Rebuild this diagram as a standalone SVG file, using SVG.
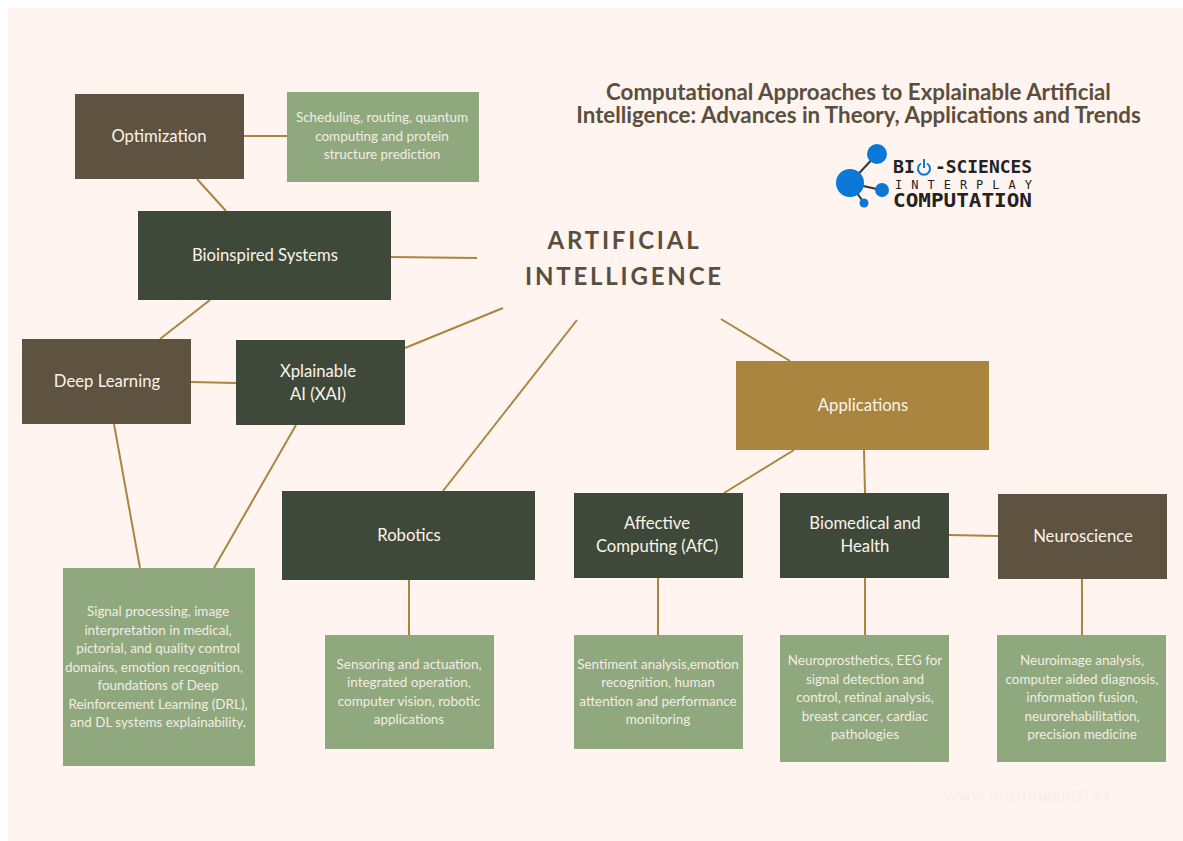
<svg xmlns="http://www.w3.org/2000/svg" width="1183" height="841" viewBox="0 0 1183 841">
<style>
text{font-family:"Lato","Noto Sans",sans-serif;text-anchor:middle}
.dk{fill:#3f493a}.br{fill:#5e5240}.gr{fill:#8fa87e}.go{fill:#aa853f}
.t{fill:#fbf3ea;font-size:16.7px}
.s{fill:#f3ede2;font-size:13.45px}
.c line{stroke:#aa853f;stroke-width:2;fill:none}
.h{fill:#5a4f3e;font-size:22.3px;font-weight:700}
.ai{fill:#5a4f3e;font-size:24px;font-weight:700;letter-spacing:2.8px}
.lg{fill:#222;font-family:"DejaVu Sans Mono",monospace;font-weight:700;text-anchor:start}
</style>
<rect width="1183" height="841" fill="#ffffff"/>
<rect x="8" y="8" width="1175" height="833" fill="#fff4ef"/>
<g id="connectors" class="c">
<line x1="244" y1="136" x2="287" y2="136"/>
<line x1="197" y1="179" x2="226" y2="211"/>
<line x1="391" y1="257" x2="477" y2="258"/>
<line x1="210" y1="300" x2="160" y2="339"/>
<line x1="191" y1="382" x2="236" y2="383"/>
<line x1="405" y1="348" x2="503" y2="308"/>
<line x1="114" y1="424" x2="140" y2="568"/>
<line x1="296" y1="425" x2="214" y2="568"/>
<line x1="577" y1="320" x2="443" y2="491"/>
<line x1="721" y1="319" x2="790" y2="361"/>
<line x1="409" y1="580" x2="409" y2="635"/>
<line x1="794" y1="450" x2="724" y2="493"/>
<line x1="864" y1="450" x2="865" y2="493"/>
<line x1="949" y1="535" x2="998" y2="536"/>
<line x1="658" y1="578" x2="658" y2="635"/>
<line x1="865" y1="578" x2="865" y2="635"/>
<line x1="1082" y1="579" x2="1082" y2="635"/>
</g>
<g id="title"><text class="h" x="858.500" y="100">Computational Approaches to Explainable Artificial</text><text class="h" x="858.500" y="123">Intelligence: Advances in Theory, Applications and Trends</text></g>
<g id="logo">
<g stroke="#333" stroke-width="2"><line x1="850" y1="183" x2="877" y2="154"/><line x1="850" y1="183" x2="881" y2="190"/><line x1="850" y1="183" x2="864" y2="203"/></g>
<g fill="#0b78d8"><circle cx="850" cy="183" r="14"/><circle cx="877" cy="154" r="10"/><circle cx="882" cy="190" r="7"/><circle cx="864" cy="203" r="4.500"/></g>
<path d="M 921 163.500 A 6 6 0 1 0 927 163.500" fill="none" stroke="#0b78d8" stroke-width="2"/><line x1="924" y1="159" x2="924" y2="168" stroke="#0b78d8" stroke-width="2"/>
<text class="lg" x="893" y="173" font-size="17" textLength="22" lengthAdjust="spacingAndGlyphs">BI</text>
<text class="lg" x="935" y="173" font-size="17" textLength="97" lengthAdjust="spacingAndGlyphs">-SCIENCES</text>
<text class="lg" x="895" y="189" font-size="12" style="font-weight:400" textLength="137">INTERPLAY</text>
<text class="lg" x="893" y="207" font-size="19" textLength="139" lengthAdjust="spacingAndGlyphs">COMPUTATION</text>
</g>
<g id="ai"><text class="ai" x="624.500" y="249">ARTIFICIAL</text><text class="ai" x="624.500" y="285">INTELLIGENCE</text></g>
<g id="optimization"><rect class="br" x="75" y="94" width="169" height="85"/><text class="t" x="159" y="142">Optimization</text></g>
<g id="optimization-note"><rect class="gr" x="287" y="92" width="192" height="90"/><text class="s"><tspan x="382" y="122">Scheduling, routing, quantum</tspan><tspan x="382" y="141">computing and protein</tspan><tspan x="382" y="159">structure prediction</tspan></text></g>
<g id="bioinspired"><rect class="dk" x="138" y="211" width="253" height="89"/><text class="t" x="265" y="261">Bioinspired Systems</text></g>
<g id="deep-learning"><rect class="br" x="22" y="339" width="169" height="85"/><text class="t" x="107" y="387">Deep Learning</text></g>
<g id="xai"><rect class="dk" x="236" y="340" width="169" height="85"/><text class="t"><tspan x="318" y="377">Xplainable</tspan><tspan x="318" y="400">AI (XAI)</tspan></text></g>
<g id="dl-note"><rect class="gr" x="63" y="568" width="192" height="198"/><text class="s"><tspan x="158" y="616">Signal processing, image</tspan><tspan x="158" y="635">interpretation in medical,</tspan><tspan x="158" y="653">pictorial, and quality control</tspan><tspan x="154" y="672">domains, emotion recognition,</tspan><tspan x="158" y="690">foundations of Deep</tspan><tspan x="158" y="709">Reinforcement Learning (DRL),</tspan><tspan x="158" y="727">and DL systems explainability<tspan fill="#ffffff">.</tspan></tspan></text></g>
<g id="robotics"><rect class="dk" x="282" y="491" width="253" height="89"/><text class="t" x="409" y="541">Robotics</text></g>
<g id="robotics-note"><rect class="gr" x="325" y="635" width="169" height="114"/><text class="s"><tspan x="409" y="669">Sensoring and actuation,</tspan><tspan x="409" y="687">integrated operation,</tspan><tspan x="409" y="706">computer vision, robotic</tspan><tspan x="409" y="724">applications</tspan></text></g>
<g id="applications"><rect class="go" x="736" y="361" width="253" height="89"/><text class="t" x="863" y="411">Applications</text></g>
<g id="affective"><rect class="dk" x="574" y="493" width="169" height="85"/><text class="t"><tspan x="657" y="529">Affective</tspan><tspan x="657" y="552">Computing (AfC)</tspan></text></g>
<g id="affective-note"><rect class="gr" x="574" y="635" width="169" height="114"/><text class="s"><tspan x="658" y="669">Sentiment analysis,emotion</tspan><tspan x="658" y="687">recognition, human</tspan><tspan x="658" y="706">attention and performance</tspan><tspan x="658" y="724">monitoring</tspan></text></g>
<g id="biomedical"><rect class="dk" x="780" y="493" width="169" height="85"/><text class="t"><tspan x="865" y="529">Biomedical and</tspan><tspan x="865" y="552">Health</tspan></text></g>
<g id="biomedical-note"><rect class="gr" x="780" y="635" width="169" height="127"/><text class="s"><tspan x="865" y="665">Neuroprosthetics, EEG for</tspan><tspan x="865" y="684">signal detection and</tspan><tspan x="865" y="702">control, retinal analysis,</tspan><tspan x="865" y="721">breast cancer, cardiac</tspan><tspan x="865" y="739">pathologies</tspan></text></g>
<g id="neuroscience"><rect class="br" x="998" y="494" width="169" height="85"/><text class="t" x="1083" y="542">Neuroscience</text></g>
<g id="neuroscience-note"><rect class="gr" x="997" y="635" width="169" height="127"/><text class="s"><tspan x="1082" y="665">Neuroimage analysis,</tspan><tspan x="1082" y="684">computer aided diagnosis,</tspan><tspan x="1082" y="702">information fusion,</tspan><tspan x="1082" y="721">neurorehabilitation,</tspan><tspan x="1082" y="739">precision medicine</tspan></text></g>
<text x="1028" y="801" font-size="16" fill="#ffe9e8" style="letter-spacing:.9px">www.unsitiogenial.es</text>
</svg>
